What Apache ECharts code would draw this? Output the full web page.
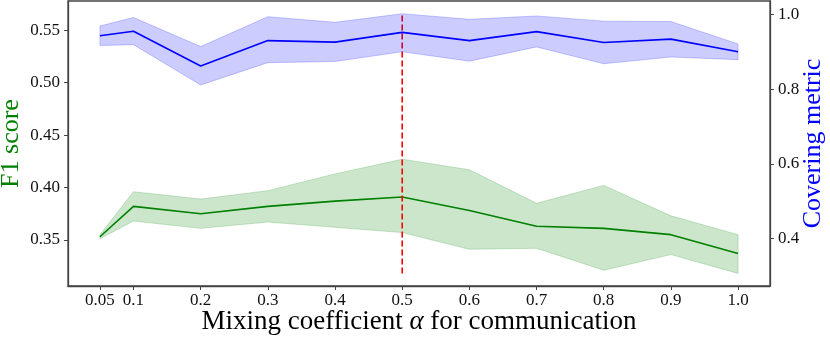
<!DOCTYPE html>
<html>
<head>
<meta charset="utf-8">
<script src="https://cdn.jsdelivr.net/npm/echarts@6/dist/echarts.min.js"></script>
<style>
  html, body { margin: 0; padding: 0; background: #fff; }
  #chart { width: 830px; height: 338px; }
</style>
</head>
<body>
<div id="chart"></div>
<script>
// mixing coefficient values (x)
var alphas = [0.05, 0.1, 0.2, 0.3, 0.4, 0.5, 0.6, 0.7, 0.8, 0.9, 1.0];
var xTickLabels = ['0.05', '0.1', '0.2', '0.3', '0.4', '0.5', '0.6', '0.7', '0.8', '0.9', '1.0'];

// F1 score (left axis): mean and band
var f1Mean  = [0.353, 0.382, 0.375, 0.382, 0.387, 0.391, 0.378, 0.363, 0.361, 0.355, 0.337];
var f1Upper = [0.355, 0.396, 0.389, 0.397, 0.413, 0.427, 0.417, 0.385, 0.402, 0.373, 0.355];
var f1Lower = [0.351, 0.368, 0.361, 0.367, 0.362, 0.357, 0.341, 0.342, 0.321, 0.336, 0.318];

// covering metric (right axis): mean and band
var covMean  = [0.943, 0.955, 0.862, 0.930, 0.926, 0.952, 0.930, 0.954, 0.925, 0.934, 0.900];
var covUpper = [0.969, 0.992, 0.914, 0.994, 0.979, 1.002, 0.987, 0.996, 0.982, 0.981, 0.921];
var covLower = [0.917, 0.919, 0.811, 0.871, 0.874, 0.900, 0.875, 0.913, 0.868, 0.886, 0.879];

// chosen alpha marker (on the left axis)
var chosenAlpha = 0.5;
var markerRange = [0.318, 0.566];

var leftTicks = [0.35, 0.40, 0.45, 0.50, 0.55];
var rightTicks = [0.4, 0.6, 0.8, 1.0];

var FONT = 'Liberation Serif';
var AXIS_COLOR = '#444';

function zip(xs, ys) {
  return xs.map(function (x, i) { return [x, ys[i]]; });
}

// shaded band between lower and upper, drawn through the axis scales
function band(name, lower, upper, yIndex, fill, z) {
  return {
    name: name,
    type: 'custom',
    yAxisIndex: yIndex,
    z: z,
    clip: true,
    silent: true,
    data: [[alphas[0], lower[0]]],
    renderItem: function (params, api) {
      var pts = [];
      alphas.forEach(function (a, i) { pts.push(api.coord([a, upper[i]])); });
      for (var i = alphas.length - 1; i >= 0; i--) pts.push(api.coord([alphas[i], lower[i]]));
      return {
        type: 'polygon',
        shape: { points: pts },
        style: { fill: fill, stroke: fill, lineWidth: 1 }
      };
    }
  };
}

var chart = echarts.init(document.getElementById('chart'));
var option = {
  animation: false,
  grid: {
    left: 68, right: 60, top: 1, bottom: 52,
    outerBoundsMode: 'none',
    containLabel: false,
    show: true, borderColor: AXIS_COLOR, borderWidth: 1.3, backgroundColor: 'transparent'
  },
  xAxis: {
    type: 'value',
    min: 0.0025,
    max: 1.0475,
    name: 'Mixing coefficient {a|α} for communication',
    nameLocation: 'middle',
    nameMoveOverlap: false,
    nameGap: 22,
    nameTextStyle: {
      fontFamily: FONT, fontSize: 27, color: '#000',
      rich: { a: { fontFamily: FONT, fontSize: 27, fontStyle: 'italic', color: '#000' } }
    },
    axisLine: { show: true, lineStyle: { color: AXIS_COLOR, width: 1.3 } },
    axisTick: { show: true, length: 4, customValues: alphas, lineStyle: { color: AXIS_COLOR } },
    axisLabel: {
      customValues: alphas,
      margin: 6,
      fontFamily: FONT, fontSize: 17, color: '#111',
      formatter: function (v) {
        var i = alphas.indexOf(v);
        return i >= 0 ? xTickLabels[i] : '';
      }
    },
    splitLine: { show: false }
  },
  yAxis: [
    {
      type: 'value',
      position: 'left',
      min: 0.306,
      max: 0.578,
      name: 'F1 score',
      nameLocation: 'middle',
      nameRotate: 90,
      nameMoveOverlap: false,
      nameGap: 44,
      nameTextStyle: { fontFamily: FONT, fontSize: 26, color: '#008000' },
      axisLine: { show: true, lineStyle: { color: AXIS_COLOR, width: 1.3 } },
      axisTick: { show: true, length: 4, customValues: leftTicks, lineStyle: { color: AXIS_COLOR } },
      axisLabel: {
        customValues: leftTicks,
        margin: 8,
        fontFamily: FONT, fontSize: 17, color: '#111',
        formatter: function (v) { return v.toFixed(2); }
      },
      splitLine: { show: false }
    },
    {
      type: 'value',
      position: 'right',
      min: 0.273,
      max: 1.036,
      name: 'Covering metric',
      nameLocation: 'middle',
      nameRotate: 90,
      nameMoveOverlap: false,
      nameGap: 30,
      nameTextStyle: { fontFamily: FONT, fontSize: 26, color: '#0000ff' },
      axisLine: { show: true, lineStyle: { color: AXIS_COLOR, width: 1.3 } },
      axisTick: { show: true, length: 4, customValues: rightTicks, lineStyle: { color: AXIS_COLOR } },
      axisLabel: {
        customValues: rightTicks,
        margin: 8,
        fontFamily: FONT, fontSize: 17, color: '#111',
        formatter: function (v) { return v.toFixed(1); }
      },
      splitLine: { show: false }
    }
  ],
  series: [
    band('F1 band', f1Lower, f1Upper, 0, 'rgba(0,128,0,0.2)', 1),
    {
      name: 'F1 score',
      type: 'line',
      yAxisIndex: 0,
      z: 2,
      data: zip(alphas, f1Mean),
      symbol: 'none',
      lineStyle: { color: '#008000', width: 1.6 }
    },
    {
      name: 'chosen alpha',
      type: 'line',
      yAxisIndex: 0,
      z: 3,
      data: [[chosenAlpha, markerRange[0]], [chosenAlpha, markerRange[1]]],
      symbol: 'none',
      lineStyle: { color: '#ff0000', width: 1.6, type: [6, 3] }
    },
    band('Covering band', covLower, covUpper, 1, 'rgba(0,0,255,0.2)', 4),
    {
      name: 'Covering metric',
      type: 'line',
      yAxisIndex: 1,
      z: 5,
      data: zip(alphas, covMean),
      symbol: 'none',
      lineStyle: { color: '#0000ff', width: 1.6 }
    }
  ]
};
chart.setOption(option);
</script>
</body>
</html>
